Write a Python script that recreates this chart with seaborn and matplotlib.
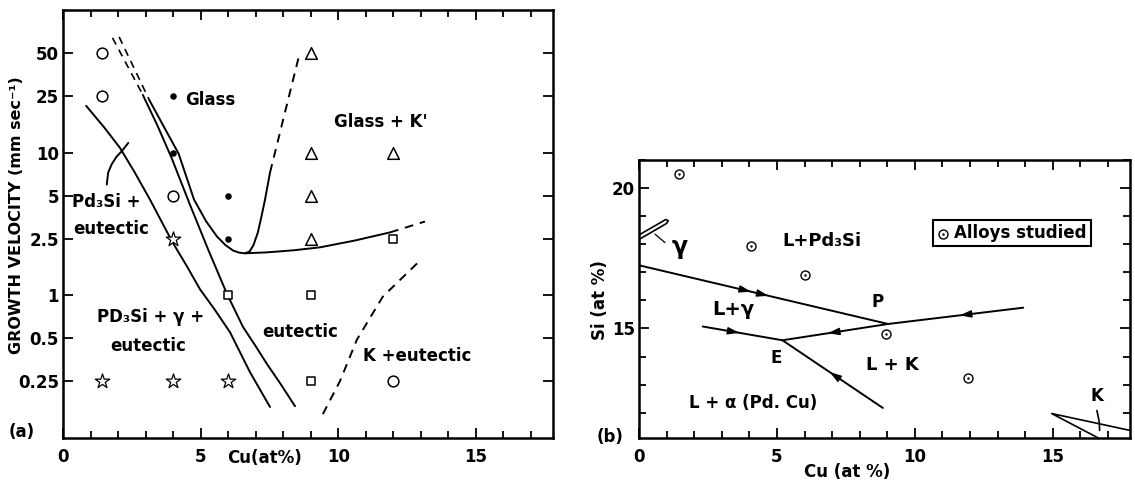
import matplotlib
matplotlib.use("Agg")
import matplotlib.pyplot as plt
from matplotlib.ticker import MultipleLocator, NullLocator, FixedLocator, FixedFormatter
import seaborn as sns

sns.set_style("ticks")
plt.rcParams["font.family"] = ["DejaVu Sans"]
plt.rcParams["font.weight"] = "bold"
plt.rcParams["axes.linewidth"] = 1.8
plt.rcParams["axes.edgecolor"] = "black"
plt.rcParams["text.color"] = "black"
plt.rcParams["axes.labelcolor"] = "black"
plt.rcParams["xtick.color"] = "black"
plt.rcParams["ytick.color"] = "black"

# ---------------- (a) growth velocity vs Cu content ----------------
glass_cu = [4, 4, 6, 6]                 # filled dots: glass
glass_v = [25, 10, 5, 2.5]
pd3si_cu = [1.4, 1.4, 4, 12]            # open circles
pd3si_v = [50, 25, 5, 0.25]
gamma_cu = [4, 1.4, 4, 6]               # stars: Pd3Si + gamma + eutectic
gamma_v = [2.5, 0.25, 0.25, 0.25]
glassk_cu = [9, 9, 12, 9, 9]            # triangles: glass + K'
glassk_v = [50, 10, 10, 5, 2.5]
eut_cu = [6, 9, 9, 12]                  # squares: eutectic
eut_v = [1, 1, 0.25, 2.5]

# region boundaries
b1_cu = [0.84, 1.5, 2.07, 2.6, 3.16, 3.96, 4.5, 4.98, 5.5, 6.07, 6.79, 7.52]
b1_v = [21.3, 15.0, 10.8, 7.3, 4.69, 2.39, 1.6, 1.10, 0.80, 0.55, 0.29, 0.165]
b2_dash_cu = [1.8, 2.9]
b2_dash_v = [63.7, 25.4]
b2_cu = [2.9, 3.43, 3.94, 4.61, 5.27, 5.96, 6.54, 7.0, 7.41, 7.9, 8.43]
b2_v = [25.4, 15.5, 9.23, 4.33, 2.10, 1.02, 0.60, 0.44, 0.33, 0.24, 0.167]
b3_dash_cu = [2.04, 3.13]
b3_dash_v = [64.7, 23.5]
b3_cu = [3.13, 3.68, 4.2, 4.76, 5.2, 5.59, 5.9, 6.18, 6.4, 6.61, 6.78,
         6.92, 7.08, 7.2, 7.34, 7.52]
b3_v = [23.5, 15.0, 9.84, 4.69, 3.3, 2.59, 2.25, 2.06, 1.99, 1.97, 2.03,
        2.25, 2.76, 3.5, 4.69, 7.24]
b3_up_cu = [7.52, 8.61]
b3_up_v = [7.24, 50.8]
b4_cu = [6.61, 7.41, 8.4, 9.34, 10.6, 11.88]
b4_v = [1.97, 2.0, 2.07, 2.17, 2.42, 2.76]
b4_dash_cu = [11.88, 13.15]
b4_dash_v = [2.76, 3.29]
b5_cu = [9.44, 10.06, 10.68, 11.62, 12.9]
b5_v = [0.147, 0.25, 0.49, 0.98, 1.70]
lead_cu = [1.59, 1.64, 1.77, 1.95, 2.13, 2.37]
lead_v = [5.98, 7.24, 8.3, 9.4, 10.2, 11.7]

v_ticks = [0.25, 0.5, 1, 2.5, 5, 10, 25, 50]
v_labels = ["0.25", "0.5", "1", "2.5", "5", "10", "25", "50"]

# ---------------- (b) liquidus projection ----------------
alloy_cu = [1.45, 4.06, 6.01, 8.97, 11.92]
alloy_si = [20.5, 17.92, 16.9, 14.82, 13.25]
l_pd3si_cu = [0, 9.03]
l_pd3si_si = [17.25, 15.16]
l_pk_cu = [9.03, 13.93]
l_pk_si = [15.16, 15.74]
l_pe_cu = [9.03, 5.2]
l_pe_si = [15.16, 14.58]
l_gam_cu = [2.31, 5.2]
l_gam_si = [15.07, 14.58]
l_alpha_cu = [5.2, 8.84]
l_alpha_si = [14.58, 12.17]
k_cu = [17.8, 14.96, 16.65]
k_si = [11.37, 11.97, 11.1]
gwedge_cu = [0, 0.97, 1.06, 1.0, 0]
gwedge_si = [18.33, 18.88, 18.84, 18.74, 18.17]
glead_cu = [0.58, 0.94]
glead_si = [18.36, 18.06]
klead_cu = [16.6, 16.68, 16.7]
klead_si = [12.08, 11.7, 11.37]

fig = plt.figure(figsize=(11.35, 4.86), dpi=100)
ax1 = fig.add_axes([0.0555, 0.0988, 0.4317, 0.8807])
ax2 = fig.add_axes([0.563, 0.0988, 0.4326, 0.572])

LW = 1.4
DASH = (0, (4.5, 3.5))


def line(ax, x, y, dashed=False, lw=LW):
    kw = dict(linestyle=DASH) if dashed else {}
    sns.lineplot(x=x, y=y, ax=ax, color="k", lw=lw, sort=False,
                 estimator=None, legend=False, **kw)


# ---- panel (a) ----
ax1.set_yscale("log")
line(ax1, b1_cu, b1_v)
line(ax1, b2_dash_cu, b2_dash_v, dashed=True, lw=1.2)
line(ax1, b2_cu, b2_v)
line(ax1, b3_dash_cu, b3_dash_v, dashed=True, lw=1.2)
line(ax1, b3_cu, b3_v)
line(ax1, b3_up_cu, b3_up_v, dashed=True)
line(ax1, b4_cu, b4_v)
line(ax1, b4_dash_cu, b4_dash_v, dashed=True)
line(ax1, b5_cu, b5_v, dashed=True)
line(ax1, lead_cu, lead_v)

sns.scatterplot(x=glass_cu, y=glass_v, ax=ax1, marker="o", s=22,
                color="k", linewidth=0, zorder=4)
sns.scatterplot(x=pd3si_cu, y=pd3si_v, ax=ax1, marker="o", s=60,
                facecolor="white", edgecolor="k", linewidth=1.1, zorder=4)
sns.scatterplot(x=gamma_cu, y=gamma_v, ax=ax1, marker="*", s=120,
                facecolor="white", edgecolor="k", linewidth=0.9, zorder=4)
sns.scatterplot(x=glassk_cu, y=glassk_v, ax=ax1, marker="^", s=70,
                facecolor="white", edgecolor="k", linewidth=1.1, zorder=4)
sns.scatterplot(x=eut_cu, y=eut_v, ax=ax1, marker="s", s=40,
                facecolor="white", edgecolor="k", linewidth=1.1, zorder=4)

ax1.set_xlim(0, 17.8)
ax1.set_ylim(0.1, 100)
ax1.xaxis.set_major_locator(FixedLocator([0, 5, 10, 15]))
ax1.xaxis.set_minor_locator(MultipleLocator(1))
ax1.yaxis.set_major_locator(FixedLocator(v_ticks))
ax1.yaxis.set_major_formatter(FixedFormatter(v_labels))
ax1.yaxis.set_minor_locator(NullLocator())

TXT = dict(fontsize=12, fontweight="bold", color="k")
ax1.text(4.43, 23.5, "Glass", ha="left", va="center", **TXT)
ax1.text(11.55, 16.5, "Glass + K'", ha="center", va="center", **TXT)
ax1.text(0.33, 4.5, "Pd\u2083Si +", ha="left", va="center", **TXT)
ax1.text(0.36, 2.9, "eutectic", ha="left", va="center", **TXT)
ax1.text(1.23, 0.70, "PD\u2083Si + \u03b3 +", ha="left", va="center", **TXT)
ax1.text(1.7, 0.44, "eutectic", ha="left", va="center", **TXT)
ax1.text(7.23, 0.55, "eutectic", ha="left", va="center", **TXT)
ax1.text(10.9, 0.374, "K +eutectic", ha="left", va="center", **TXT)

# ---- panel (b) ----
for xs, ys in [(l_pd3si_cu, l_pd3si_si), (l_pk_cu, l_pk_si), (l_pe_cu, l_pe_si),
               (l_gam_cu, l_gam_si), (l_alpha_cu, l_alpha_si)]:
    line(ax2, xs, ys)
line(ax2, k_cu, k_si, lw=1.2)
line(ax2, gwedge_cu, gwedge_si, lw=1.2)
line(ax2, glead_cu, glead_si, lw=0.9)
line(ax2, klead_cu, klead_si, lw=1.2)


def arrowhead(ax, xs, ys, t, reverse=False):
    d = 0.03
    ta, tb = (t + d, t) if reverse else (t, t + d)
    pa = (xs[0] + ta * (xs[1] - xs[0]), ys[0] + ta * (ys[1] - ys[0]))
    pb = (xs[0] + tb * (xs[1] - xs[0]), ys[0] + tb * (ys[1] - ys[0]))
    ax.annotate("", xy=pb, xytext=pa,
                arrowprops=dict(arrowstyle="-|>,head_length=0.7,head_width=0.22",
                                color="k", lw=1.0, shrinkA=0, shrinkB=0))


arrowhead(ax2, l_pd3si_cu, l_pd3si_si, 0.42)
arrowhead(ax2, l_pd3si_cu, l_pd3si_si, 0.49)
arrowhead(ax2, l_pk_cu, l_pk_si, 0.53, reverse=True)
arrowhead(ax2, l_pe_cu, l_pe_si, 0.54)
arrowhead(ax2, l_gam_cu, l_gam_si, 0.43)
arrowhead(ax2, l_alpha_cu, l_alpha_si, 0.47, reverse=True)

ring = sns.scatterplot(x=alloy_cu, y=alloy_si, ax=ax2, marker="o", s=42,
                       facecolor="white", edgecolor="k", linewidth=1.0,
                       zorder=4).collections[-1]
dot = sns.scatterplot(x=alloy_cu, y=alloy_si, ax=ax2, marker="o", s=3,
                      color="k", linewidth=0, zorder=5).collections[-1]

ax2.set_xlim(0, 17.8)
ax2.set_ylim(11.1, 21.0)
ax2.xaxis.set_major_locator(FixedLocator([0, 5, 10, 15]))
ax2.xaxis.set_minor_locator(MultipleLocator(1))
ax2.yaxis.set_major_locator(FixedLocator([15, 20]))
ax2.yaxis.set_minor_locator(MultipleLocator(1))

ax2.text(5.2, 18.13, "L+Pd\u2083Si", ha="left", va="center", fontsize=13,
         fontweight="bold")
ax2.text(1.2, 17.9, "\u03b3", ha="left", va="center", fontsize=17,
         fontweight="bold")
ax2.text(8.66, 15.95, "P", ha="center", va="center", **TXT)
ax2.text(2.64, 15.67, "L+\u03b3", ha="left", va="center", fontsize=14,
         fontweight="bold")
ax2.text(4.96, 13.94, "E", ha="center", va="center", **TXT)
ax2.text(9.2, 13.7, "L + K", ha="center", va="center", fontsize=13,
         fontweight="bold")
ax2.text(1.81, 12.36, "L + \u03b1 (Pd. Cu)", ha="left", va="center", **TXT)
ax2.text(16.6, 12.6, "K", ha="center", va="center", **TXT)

leg = ax2.legend(handles=[(ring, dot)], labels=["Alloys studied"],
                 loc="center", bbox_to_anchor=(0.76, 0.737), fontsize=12,
                 frameon=True, fancybox=False, framealpha=1, edgecolor="k",
                 borderpad=0.25, handlelength=0.6, handletextpad=0.4,
                 borderaxespad=0)
leg.get_frame().set_linewidth(1.5)
for t in leg.get_texts():
    t.set_fontweight("bold")
    t.set_color("black")

for ax in (ax1, ax2):
    ax.tick_params(which="both", direction="in", top=True, right=True,
                   width=1.3, colors="k", labelsize=12)
    ax.tick_params(which="major", length=7)
    ax.tick_params(which="minor", length=5)
    ax.tick_params(axis="x", pad=7)
    ax.tick_params(axis="y", pad=3)
    for lab in ax.get_xticklabels() + ax.get_yticklabels():
        lab.set_fontweight("bold")
    for sp in ax.spines.values():
        sp.set_linewidth(1.8)
        sp.set_visible(True)
        sp.set_color("black")
    ax.set_xlabel("")
    ax.set_ylabel("")

fig.text(17 / 1135, 1 - 215 / 486, "GROWTH VELOCITY (mm sec\u207b\u00b9)",
         rotation=90, ha="center", va="center", fontsize=11.5, fontweight="bold")
fig.text(265 / 1135, 1 - 458 / 486, "Cu(at%)", ha="center", va="center",
         fontsize=12, fontweight="bold")
fig.text(22 / 1135, 1 - 432 / 486, "(a)", ha="center", va="center",
         fontsize=12, fontweight="bold")
fig.text(600 / 1135, 1 - 300 / 486, "Si (at %)", rotation=90, ha="center",
         va="center", fontsize=12, fontweight="bold")
fig.text(847 / 1135, 1 - 472 / 486, "Cu (at %)", ha="center", va="center",
         fontsize=12, fontweight="bold")
fig.text(610 / 1135, 1 - 437 / 486, "(b)", ha="center", va="center",
         fontsize=12, fontweight="bold")

fig.savefig("out.png", dpi=100, facecolor="white")
